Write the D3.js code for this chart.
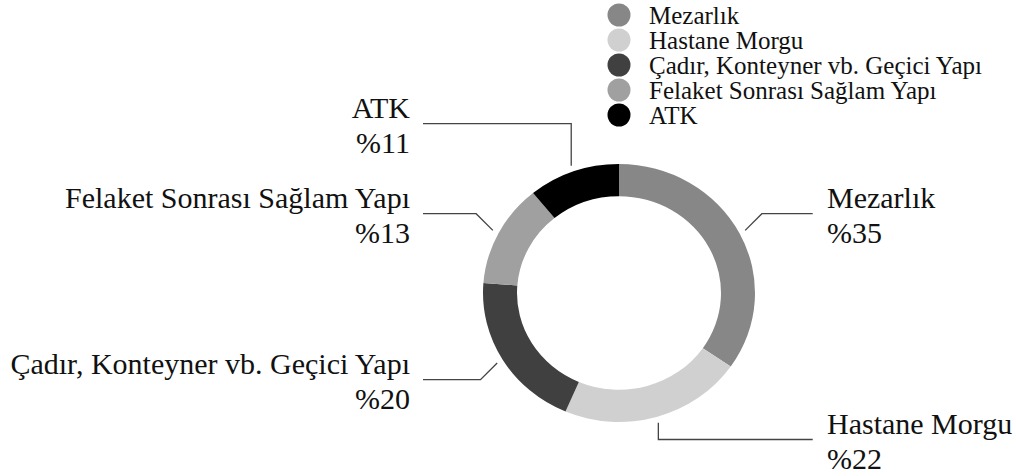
<!DOCTYPE html>
<html>
<head>
<meta charset="utf-8">
<script src="https://cdn.jsdelivr.net/npm/d3@7"></script>
<style>
  body { margin: 0; background: #fff; }
  text { font-family: "Liberation Serif", "Times New Roman", serif; fill: #111; }
</style>
</head>
<body>
<div id="chart"></div>
<script>
// data
var categories = ["Mezarlık", "Hastane Morgu", "Çadır, Konteyner vb. Geçici Yapı", "Felaket Sonrası Sağlam Yapı", "ATK"];
var values = [35, 22, 20, 13, 11];
var colors = ["#878787", "#d0d0d0", "#404040", "#a0a0a0", "#000000"];

var W = 1016, H = 476;
var cx = 619, cy = 293, ky = 0.9485;
var rOuter = 136, rInner = 102, rLine = 142.4;

var svg = d3.select("#chart").append("svg")
    .attr("width", W)
    .attr("height", H);

var pie = d3.pie().sort(null).value(function(d) { return d; });
var arcs = pie(values);
var arc = d3.arc().innerRadius(rInner).outerRadius(rOuter);

// donut
svg.append("g")
    .attr("transform", "translate(" + cx + "," + cy + ") scale(1," + ky + ")")
  .selectAll("path")
  .data(arcs)
  .enter().append("path")
    .attr("d", arc)
    .style("fill", function(d, i) { return colors[i]; });

// label lines
var labels = arcs.map(function(a, i) {
  var mid = (a.startAngle + a.endAngle) / 2;
  var s = Math.sin(mid), c = Math.cos(mid);
  var sx = cx + s * rLine, sy = cy - c * rLine * ky;
  return { i: i, mid: mid, side: s >= 0 ? 1 : -1, vert: Math.abs(s) < 0.5,
           sx: sx, sy: sy, y: sy + (c > 0 ? -16.7 : 16.7) };
});
// push labels apart on each side
[1, -1].forEach(function(side) {
  var list = labels.filter(function(l) { return l.side === side; })
      .sort(function(a, b) { return a.y - b.y; });
  for (var k = list.length - 2; k >= 0; k--) {
    if (list[k].y > list[k + 1].y - 90) list[k].y = list[k + 1].y - 90;
  }
});

var lineG = svg.append("g");
labels.forEach(function(l) {
  var ex = l.vert ? l.sx : l.sx + l.side * Math.abs(l.y - l.sy);
  var endX = l.side > 0 ? 812.7 : 423;
  lineG.append("polyline")
      .attr("points", l.sx + "," + l.sy + " " + ex + "," + l.y + " " + endX + "," + l.y)
      .style("fill", "none")
      .style("stroke", "#444")
      .style("stroke-width", 1.3);
  var tx = l.side > 0 ? 827 : 410;
  var t = svg.append("text")
      .attr("text-anchor", l.side > 0 ? "start" : "end")
      .style("font-size", "30px");
  t.append("tspan").attr("x", tx).attr("y", l.y - 6).text(categories[l.i]);
  t.append("tspan").attr("x", tx).attr("y", l.y + 29).text("%" + values[l.i]);
});

// legend
var legend = svg.append("g").selectAll("g")
    .data(categories)
    .enter().append("g")
    .attr("transform", function(d, i) { return "translate(619," + (15 + i * 25) + ")"; });
legend.append("circle")
    .attr("r", 11.5)
    .style("fill", function(d, i) { return colors[i]; });
legend.append("text")
    .attr("x", 30)
    .attr("y", 8.5)
    .style("font-size", "25px")
    .text(function(d) { return d; });
</script>
</body>
</html>
